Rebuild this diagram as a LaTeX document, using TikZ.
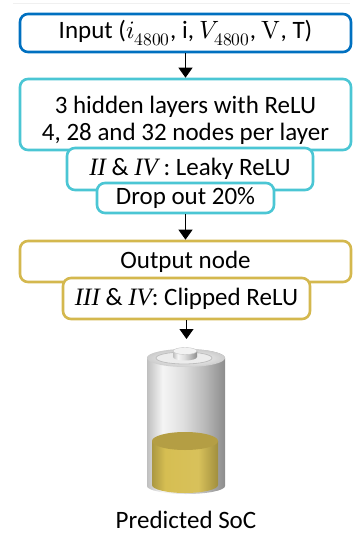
\documentclass[tikz,border=0pt]{standalone}
\usepackage{fontspec}
\usepackage{unicode-math}
\setmainfont{Carlito}
\setmathfont{Latin Modern Math}
\newfontfamily\serifit{Liberation Serif}
\newcommand{\lyr}[1]{{\serifit\itshape #1}}
\usetikzlibrary{arrows.meta}

\definecolor{inblue}{RGB}{0,112,192}
\definecolor{hidcyan}{RGB}{75,198,212}
\definecolor{outgold}{RGB}{212,184,78}
\definecolor{socside}{RGB}{214,190,82}
\definecolor{soctop}{RGB}{180,158,68}

% glass body and charge level of the cell
\pgfdeclarehorizontalshading{glassbody}{100bp}{color(0bp)=(gray!50); color(25bp)=(gray!50); color(35bp)=(gray!8); color(48bp)=(gray!25); color(62bp)=(gray!55); color(75bp)=(gray!90); color(100bp)=(gray!90)}
\pgfdeclarehorizontalshading{goldside}{100bp}{color(0bp)=(socside!80!black); color(25bp)=(socside!80!black); color(35bp)=(socside); color(60bp)=(socside!95!white); color(75bp)=(socside!75!black); color(100bp)=(socside!75!black)}

\tikzset{
  box/.style={draw, line width=2.6pt, rounded corners=8pt, fill=white, inner sep=0pt, align=center, font=\fontsize{25}{27}\selectfont},
  lbl/.style={align=center, font=\fontsize{25}{27}\selectfont},
  flow/.style={-{Triangle[length=10pt,width=14pt]}, line width=0.9pt}
}

\begin{document}
\begin{tikzpicture}[x=1pt,y=1pt,yscale=-1]
\useasboundingbox (0,0) rectangle (359,533);

%Straight Lines: faint rule along the top
\draw [gray!12, line width=1pt] (13,3) -- (350,3);

%Shape: input box
\node (input) [box, draw=inblue, minimum width=331pt, minimum height=38pt] at (185.5,33) {Input ($i_{4800}$, i, $V_{4800}$, $\symup{V}$, T)};

%Shape: hidden layers
\node (hidden) [box, draw=hidcyan, minimum width=331pt, minimum height=71pt] at (185.5,114.5) {};
% Text Node
\node (hiddentxt) [lbl] at (185.5,120) {3 hidden layers with ReLU\\4, 28 and 32 nodes per layer};
\node (leaky) [box, draw=hidcyan, minimum width=246pt, minimum height=42pt] at (190,169) {\lyr{II} \& \lyr{IV} : Leaky ReLU};
\node (dropout) [box, draw=hidcyan, minimum width=177pt, minimum height=30pt] at (185.5,198) {Drop out 20\%};

%Shape: output layer
\node (output) [box, draw=outgold, minimum width=331pt, minimum height=41pt] at (185.5,261.5) {Output node};
\node (clipped) [box, draw=outgold, minimum width=247pt, minimum height=41pt] at (186.5,298.5) {\lyr{III} \& \lyr{IV}: Clipped ReLU};

%Straight Lines
\coordinate (battop) at (186.5,339);
\draw [flow] (input) -- (hidden);
\draw [flow] (dropout) -- (output);
\draw [flow] (clipped) -- (battop);

%Shape: battery body
\shade [shading=glassbody] (147,358) -- (147,486) arc (180:0:39 and 8) -- (225,358) arc (0:-180:39 and 9) -- cycle;
% charge level
\shade [shading=goldside] (152,441) -- (152,485) arc (180:0:33 and 8) -- (218,441) -- cycle;
\fill [soctop] (185,441) ellipse (33 and 9);
% top and terminal
\shade [inner color=white, outer color=gray!40] (186,358) ellipse (39 and 9);
\draw [gray!50, line width=0.8pt, fill=gray!15] (184,358) ellipse (28 and 6);
\shade [shading=glassbody] (173,351) -- (173,357) arc (180:0:12 and 3.5) -- (197,351) -- cycle;
\draw [gray!45, fill=gray!10] (185,351) ellipse (12 and 3.5);

% Text Node
\node (soc) [lbl, inner sep=0pt, anchor=base] at (186,528) {Predicted SoC};
\end{tikzpicture}
\end{document}
